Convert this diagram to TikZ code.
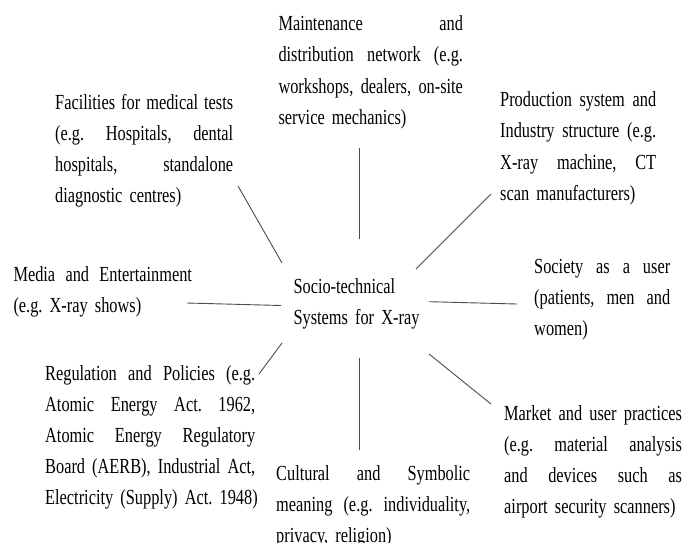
\documentclass[tikz,border=0pt]{standalone}
\usepackage{fontspec}
\setmainfont{Liberation Serif}[FakeStretch=0.76]
\newlength{\jwidth}
\newcommand{\jl}[1]{\leavevmode\hbox to \jwidth{\spaceskip=\fontdimen2\font plus 1fil\relax #1}}
\newcommand{\lastl}[1]{\leavevmode\hbox to \jwidth{#1\hss}}
\tikzset{
  blk/.style={anchor=base west, inner sep=0pt, align=left,
    text width=#1,
    execute at begin node={\setlength{\jwidth}{#1pt}},
    font=\frenchspacing\fontsize{21.5}{31.2}\selectfont},
  conn/.style={draw=black!70, line width=0.9pt},
}
\begin{document}
\begin{tikzpicture}[x=1pt,y=-1pt]
\useasboundingbox (0,0) rectangle (683,542);

\node[blk=184.5] (maint) at (278.3,30.7)
  {\jl{Maintenance and}\\\jl{distribution network (e.g.}\\\jl{workshops, dealers, on-site}\\\lastl{service mechanics)}};
\node[blk=178] (fac) at (55,109.3)
  {\jl{Facilities for medical tests}\\\jl{(e.g. Hospitals, dental}\\\jl{hospitals, standalone}\\\lastl{diagnostic centres)}};
\node[blk=156] (prod) at (500,106.7)
  {\jl{Production system and}\\\jl{Industry structure (e.g.}\\\jl{X-ray machine, CT}\\\lastl{scan manufacturers)}};
\node[blk=178.5] (media) at (13.3,281.7)
  {\jl{Media and Entertainment}\\\lastl{(e.g. X-ray shows)}};
\node[blk=125] (core) at (293.3,293.3)
  {\lastl{Socio-technical}\\\lastl{Systems for X-ray}};
\node[blk=136] (soc) at (534,273.5)
  {\jl{Society as a user}\\\jl{(patients, men and}\\\lastl{women)}};
\node[blk=210] (reg) at (45,380)
  {\jl{Regulation and Policies (e.g.}\\\jl{Atomic Energy Act. 1962,}\\\jl{Atomic Energy Regulatory}\\\jl{Board (AERB), Industrial Act,}\\\lastl{Electricity (Supply) Act. 1948)}};
\node[blk=194] (cult) at (276,480)
  {\jl{Cultural and Symbolic}\\\jl{meaning (e.g. individuality,}\\\lastl{privacy, religion)}};
\node[blk=177.7] (mkt) at (504,420)
  {\jl{Market and user practices}\\\jl{(e.g. material analysis}\\\jl{and devices such as}\\\lastl{airport security scanners)}};

\coordinate (maintE) at (359.3,148);
\coordinate (maintC) at (359.3,239);
\coordinate (facE) at (238,186);
\coordinate (facC) at (282,263);
\coordinate (prodE) at (491,194);
\coordinate (prodC) at (416,269);
\coordinate (mediaE) at (187,303);
\coordinate (mediaC) at (281,305.5);
\coordinate (socC) at (429,301.7);
\coordinate (socE) at (517,304);
\coordinate (regC) at (282,343);
\coordinate (regE) at (259,374);
\coordinate (cultC) at (359.3,358);
\coordinate (cultE) at (359.3,450);
\coordinate (mktC) at (429,354);
\coordinate (mktE) at (491,404);

\draw[conn] (maintE) -- (maintC);
\draw[conn] (facE) -- (facC);
\draw[conn] (prodE) -- (prodC);
\draw[conn] (mediaE) -- (mediaC);
\draw[conn] (socC) -- (socE);
\draw[conn] (regC) -- (regE);
\draw[conn] (cultC) -- (cultE);
\draw[conn] (mktC) -- (mktE);
\end{tikzpicture}
\end{document}
